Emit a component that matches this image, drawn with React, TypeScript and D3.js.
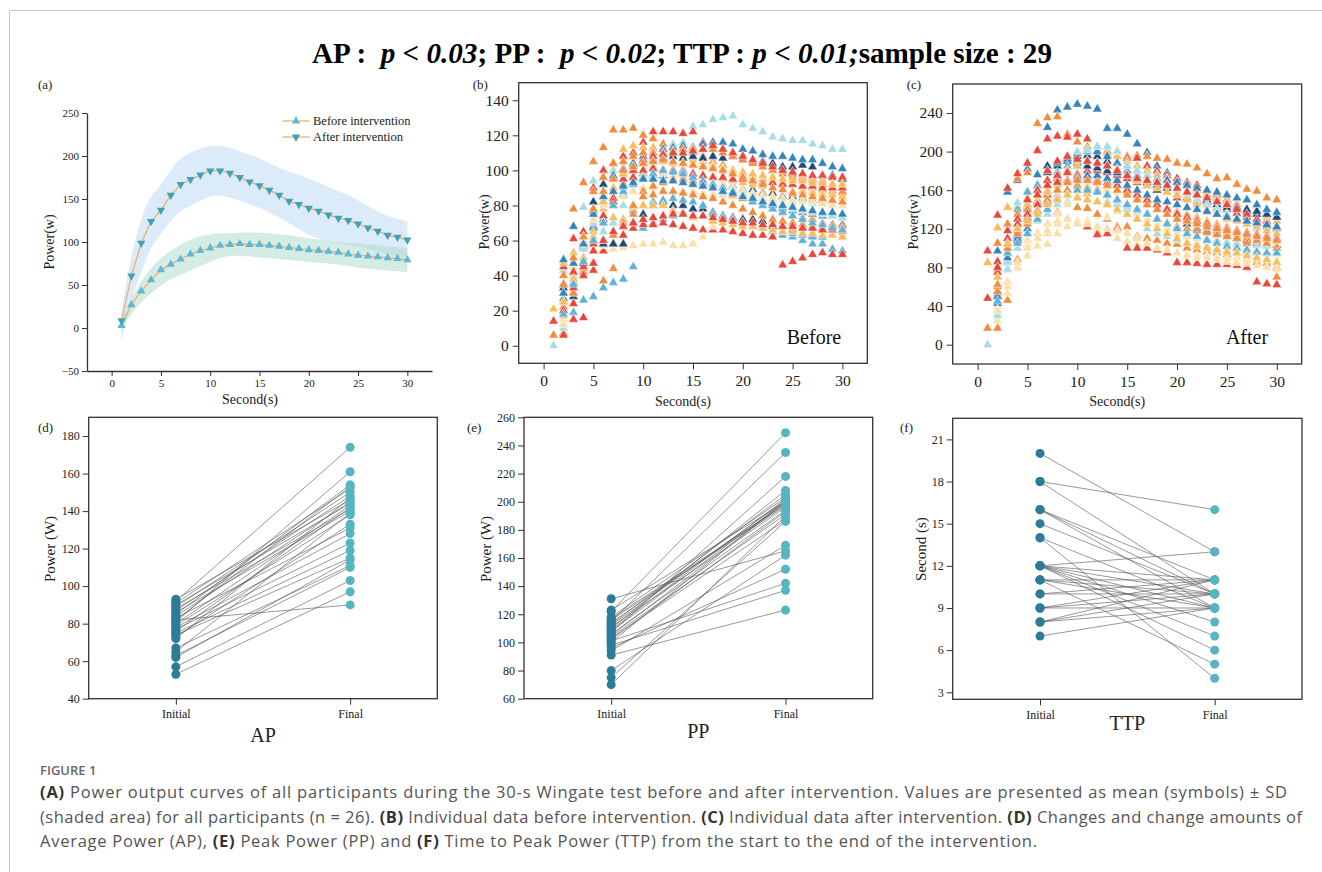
import React, { useEffect, useRef } from "react";
import * as d3 from "d3";

// ---- data ----
const seconds = [1, 2, 3, 4, 5, 6, 7, 8, 9, 10, 11, 12, 13, 14, 15, 16, 17, 18, 19, 20, 21, 22, 23, 24, 25, 26, 27, 28, 29, 30];

const meanBefore = [2.7, 27, 43, 56, 67.5, 74, 80, 86, 90, 93, 96, 97, 98, 97, 97, 96, 95, 93.6, 92.4, 91, 90, 89, 88, 86, 84.6, 83.5, 82.7, 81.5, 80.7, 79.2];
const meanAfter = [8.5, 60.5, 98.6, 124, 137, 154.5, 167, 172.7, 178, 182.8, 182.8, 180, 175, 170, 165.5, 160.3, 154.5, 147.5, 143.6, 139.4, 136, 131.6, 127.7, 125, 121, 116.5, 112.6, 108, 105.6, 102.5];
const beforeUpper = [8, 35, 55, 70, 82, 90, 97, 103, 107, 109, 110, 110, 111, 111, 111, 110, 109, 108, 106, 104, 103, 101, 100, 99, 98, 97, 96, 95, 94, 93];
const beforeLower = [-3, 18, 30, 40, 50, 57, 62, 67, 72, 77, 82, 84, 84, 83, 82, 81, 80, 79, 78, 77, 76, 75, 74, 72, 70, 69, 68, 67, 66, 65];
const afterUpper = [20, 85, 130, 155, 165, 185, 198, 204, 209, 212, 212, 210, 205, 202, 197, 192, 186, 182, 178, 174, 169, 164, 159, 155, 148, 142, 135, 130, 127, 124];
const afterLower = [-15, 35, 65, 95, 110, 125, 137, 142, 148, 154, 154, 152, 148, 144, 140, 135, 128, 122, 115, 108, 104, 101, 99, 97, 95, 92, 89, 85, 83, 82];

const R = "#e8483b", O = "#f28b3c", Y = "#f8bd5a", P = "#fbdfa8", C = "#a7dce2", L = "#5fb1d8", B = "#3584bb", N = "#1d4a78";

const beforeColors = [C, L, R, O, R, Y, P, N, N, N, B, B, L, C, C, Y, Y, P, P, O, O, O, R, R, R, Y, L, B, O];
const beforeSeries = [
  [null, 43, 68, 79, 94, 96, 100, 105, 108, 110, 112, 113, 115, 116, 125, 126, 129, 130, 131, 126, 124, 122, 119, 118, 117, 117, 115, 114, 112, 112],
  [null, 12, 19, 26, 28, 33, 36, 38, 45, 67, 70, 72, 74, 76, 78, 79, 75, 73, 72, 70, 68, 67, 65, 63, 62, 60, 58, 58, 55, 54],
  [14, 7, 15, 16, 43, 54, 58, 63, 67, 69, 69, 70, 69, 68, 67, 66, 66, 66, 65, 64, 63, 63, 62, 46, 48, 50, 52, 53, 52, 52],
  [6, 30, 78, 93, 105, 113, 123, 123, 124, 120, 118, 115, 113, 112, 110, 108, 105, 103, 100, 98, 96, 95, 94, 93, 92, 91, 90, 89, 88, 87],
  [null, 45, 61, 65, 90, 100, 104, 108, 110, 116, 122, 122, 122, 121, 122, 116, 114, 112, 110, 108, 106, 104, 102, 100, 98, 96, 95, 94, 92, 90],
  [21, 47, 53, 60, 75, 85, 90, 112, 114, 113, 113, 112, 110, 108, 106, 105, 103, 101, 99, 97, 96, 95, 94, 93, 92, 90, 88, 87, 86, 84],
  [null, 15, 30, 40, 54, 57, 55, 56, 57, 58, 58, 59, 57, 57, 58, 62, 68, 70, 72, 73, 72, 72, 71, 70, 69, 68, 67, 66, 65, 64],
  [null, 35, 28, 59, 82, 82, 96, 101, 103, 105, 106, 107, 108, 107, 108, 107, 108, 107, 108, 106, 105, 105, 104, 102, 102, 103, 102, 97, 97, 95],
  [null, 33, 36, 57, 68, 92, 95, 98, 100, 98, 97, 97, 100, 100, 98, 93, 92, 91, 91, 89, 89, 87, 87, 85, 85, 84, 83, 83, 82, 82],
  [null, 25, 30, 47, 60, 58, 58, 58, 70, 75, 80, 82, 80, 80, 78, 78, 76, 74, 73, 72, 72, 71, 68, 68, 66, 64, 63, 62, 68, 69],
  [null, 49, 68, 62, 77, 96, 97, 100, 104, 108, 110, 112, 113, 114, 113, 115, 116, 116, 115, 112, 111, 109, 108, 108, 107, 106, 106, 104, 102, 101],
  [null, 27, 45, 56, 67, 72, 80, 86, 92, 95, 97, 98, 100, 98, 96, 95, 93, 90, 88, 86, 84, 82, 80, 78, 77, 76, 75, 74, 74, 73],
  [null, 22, 40, 50, 60, 65, 70, 72, 77, 80, 82, 83, 84, 83, 82, 80, 75, 73, 72, 70, 68, 67, 66, 65, 64, 63, 62, 62, 63, 62],
  [0, 10, 35, 50, 58, 65, 70, 80, 88, 95, 98, 100, 99, 98, 96, 95, 93, 92, 90, 88, 86, 84, 82, 80, 78, 77, 76, 75, 74, 73],
  [null, 20, 40, 55, 70, 78, 85, 90, 92, 95, 96, 95, 95, 94, 93, 92, 91, 90, 88, 87, 86, 85, 84, 83, 82, 82, 81, 81, 80, 80],
  [null, 30, 50, 62, 72, 74, 73, 72, 79, 80, 80, 80, 77, 75, 73, 74, 71, 70, 69, 68, 68, 67, 66, 65, 65, 64, 64, 63, 63, 62],
  [null, 17, 37, 50, 65, 78, 85, 92, 96, 100, 102, 101, 100, 99, 98, 97, 96, 95, 94, 93, 92, 91, 90, 89, 88, 88, 87, 86, 86, 85],
  [null, 12, 30, 42, 58, 70, 80, 85, 88, 90, 90, 89, 89, 88, 88, 87, 86, 86, 85, 85, 84, 84, 83, 83, 83, 82, 82, 82, 82, 82],
  [null, 20, 45, 60, 72, 80, 88, 93, 95, 97, 98, 98, 97, 96, 95, 94, 93, 92, 90, 88, 87, 86, 85, 84, 83, 83, 82, 81, 80, 80],
  [null, 40, 47, 58, 88, 96, 104, 105, 108, 110, 110, 110, 111, 112, 112, 112, 112, 110, 108, 106, 104, 102, 100, 98, 96, 95, 94, 92, 90, 88],
  [null, 25, 36, 44, 60, 60, 63, 70, 80, 88, 91, 93, 95, 95, 94, 93, 90, 88, 86, 84, 82, 80, 78, 76, 74, 73, 72, 70, 69, 68],
  [null, 22, 30, 42, 47, 37, 44, 68, 75, 85, 86, 88, 88, 87, 86, 85, 84, 82, 80, 78, 76, 74, 72, 71, 70, 69, 68, 67, 66, 65],
  [null, 30, 42, 50, 58, 74, 84, 92, 96, 100, 101, 100, 100, 99, 98, 97, 96, 96, 95, 95, 94, 93, 93, 92, 92, 91, 91, 90, 90, 90],
  [null, 20, 33, 45, 54, 70, 82, 95, 100, 106, 108, 109, 110, 110, 111, 112, 114, 112, 110, 108, 106, 104, 102, 100, 99, 98, 97, 97, 96, 96],
  [null, 6, 24, 40, 47, 60, 65, 68, 70, 72, 73, 74, 75, 75, 74, 74, 73, 72, 71, 70, 70, 69, 69, 68, 68, 67, 67, 66, 66, 66],
  [null, 25, 38, 50, 62, 82, 90, 98, 102, 104, 105, 105, 104, 104, 103, 103, 102, 101, 100, 99, 98, 97, 96, 95, 94, 94, 93, 93, 92, 92],
  [null, 18, 35, 48, 60, 70, 80, 88, 92, 96, 98, 100, 99, 98, 96, 94, 92, 90, 88, 85, 82, 80, 78, 76, 74, 72, 70, 69, 67, 66],
  [null, 30, 47, 58, 75, 85, 88, 91, 93, 95, 95, 94, 94, 93, 92, 91, 90, 88, 87, 85, 84, 82, 81, 80, 79, 78, 77, 76, 76, 75],
  [null, 35, 50, 62, 78, 88, 95, 100, 102, 104, 105, 106, 105, 104, 103, 102, 101, 100, 98, 96, 94, 92, 90, 89, 87, 86, 85, 84, 83, 82],
];

const afterColors = [B, O, R, Y, R, O, C, P, P, N, N, N, B, L, C, C, Y, Y, P, O, O, R, R, R, B, L, O, Y, P];
const afterSeries = [
  [null, 97, 158, 170, 182, 176, 225, 243, 246, 249, 247, 244, 224, 224, 218, 208, 199, 185, 178, 170, 165, 160, 155, 152, 150, 145, 140, 138, 135, 133],
  [null, 105, 142, 172, 178, 229, 235, 236, 218, 210, 205, 200, 198, 196, 195, 196, 195, 193, 192, 188, 187, 183, 177, 172, 173, 166, 161, 159, 152, 150],
  [97, 134, 162, 177, 188, 201, 213, 216, 215, 218, 213, 205, 200, 200, 193, 193, 185, 180, 175, 172, 168, 165, 160, 155, 150, 146, 140, 135, 128, 122],
  [85, 121, 142, 143, 152, 160, 170, 180, 190, 198, 200, 200, 198, 195, 190, 185, 180, 176, 172, 168, 165, 160, 156, 152, 148, 145, 140, 136, 132, 128],
  [48, 79, 118, 118, 125, 145, 155, 160, 170, 175, 180, 180, 178, 175, 172, 168, 165, 160, 158, 152, 150, 148, 146, 142, 140, 136, 132, 128, 125, 120],
  [17, 17, 46, 88, 108, 115, 125, 137, 130, 142, 141, 135, 130, 122, 122, 112, 110, 108, 105, 104, 100, 98, 96, 95, 93, 90, 88, 86, 84, 80],
  [0, 32, 78, 100, 115, 128, 135, 145, 148, 152, 150, 148, 146, 145, 143, 140, 120, 115, 112, 108, 105, 104, 102, 100, 98, 96, 95, 95, 94, 93],
  [null, 25, 53, 79, 92, 102, 104, 115, 122, 125, 128, 122, 120, 110, 107, 104, 100, 98, 96, 94, 93, 92, 92, 91, 90, 90, 89, 88, 88, 87],
  [null, 40, 65, 100, 108, 110, 115, 125, 130, 128, 125, 118, 132, 138, 140, 135, 130, 125, 120, 115, 112, 110, 108, 106, 104, 102, 100, 98, 96, 94],
  [null, 43, 86, 108, 158, 148, 185, 188, 193, 195, 196, 195, 190, 188, 180, 172, 165, 160, 158, 155, 152, 150, 148, 145, 142, 140, 138, 135, 110, 103],
  [null, 55, 100, 120, 145, 165, 178, 185, 190, 188, 190, 188, 185, 178, 175, 170, 168, 165, 162, 160, 158, 155, 150, 148, 145, 142, 140, 138, 135, 132],
  [null, 50, 95, 112, 135, 150, 160, 172, 180, 185, 185, 183, 180, 170, 160, 155, 150, 145, 140, 130, 125, 120, 118, 115, 112, 110, 108, 105, 103, 100],
  [null, 35, 95, 113, 142, 165, 180, 188, 192, 198, 200, 200, 195, 188, 185, 180, 175, 172, 170, 168, 165, 162, 160, 158, 155, 152, 150, 145, 140, 137],
  [null, 53, 104, 140, 158, 165, 170, 178, 185, 190, 200, 205, 205, 200, 180, 175, 170, 168, 165, 160, 155, 150, 145, 140, 135, 130, 128, 125, 122, 120],
  [null, 36, 85, 147, 132, 138, 150, 155, 160, 152, 150, 148, 148, 145, 140, 138, 135, 130, 125, 120, 115, 112, 110, 108, 106, 105, 104, 103, 102, 100],
  [null, 30, 78, 100, 125, 140, 160, 168, 180, 200, 202, 205, 205, 200, 185, 180, 175, 170, 165, 160, 155, 150, 145, 140, 135, 130, 125, 120, 110, 95],
  [null, 62, 104, 125, 140, 150, 160, 170, 180, 185, 190, 188, 185, 182, 175, 170, 165, 162, 158, 155, 150, 145, 140, 135, 130, 128, 125, 122, 118, 115],
  [null, 75, 100, 124, 145, 150, 158, 165, 160, 163, 156, 162, 160, 158, 155, 152, 148, 145, 142, 138, 135, 132, 128, 125, 122, 118, 115, 112, 110, 108],
  [null, 45, 65, 80, 103, 115, 125, 135, 145, 155, 165, 162, 160, 158, 155, 150, 145, 140, 135, 130, 128, 125, 122, 120, 118, 115, 112, 110, 108, 105],
  [null, 60, 100, 120, 132, 155, 170, 175, 180, 177, 175, 170, 165, 160, 158, 155, 150, 145, 140, 135, 130, 125, 122, 118, 115, 112, 110, 108, 105, 100],
  [null, 62, 125, 135, 140, 145, 146, 152, 160, 165, 162, 160, 155, 150, 145, 140, 135, 130, 126, 122, 120, 118, 116, 114, 112, 110, 105, 85, 80, 70],
  [null, 86, 110, 130, 150, 160, 180, 190, 195, 192, 190, 188, 185, 180, 175, 172, 170, 168, 165, 162, 158, 155, 152, 148, 145, 140, 135, 130, 125, 122],
  [null, 75, 95, 120, 135, 155, 170, 175, 178, 175, 122, 114, 115, 120, 100, 100, 100, 98, 95, 85, 85, 84, 83, 83, 83, 82, 80, 65, 63, 62],
  [null, 80, 105, 125, 130, 145, 165, 168, 170, 172, 172, 170, 168, 165, 160, 155, 150, 145, 140, 135, 132, 128, 125, 122, 120, 118, 116, 114, 112, 110],
  [null, 50, 90, 110, 120, 138, 148, 160, 168, 172, 175, 175, 172, 170, 165, 160, 155, 150, 148, 145, 142, 140, 138, 135, 132, 130, 128, 126, 124, 122],
  [null, 45, 95, 105, 115, 130, 140, 150, 155, 160, 160, 158, 155, 150, 145, 140, 135, 130, 125, 120, 115, 112, 108, 105, 102, 100, 98, 96, 95, 95],
  [null, 55, 100, 115, 125, 138, 150, 160, 168, 170, 170, 168, 165, 160, 155, 150, 145, 140, 135, 130, 128, 125, 122, 120, 118, 116, 114, 112, 110, 108],
  [null, 70, 104, 120, 128, 135, 145, 150, 155, 152, 150, 148, 145, 140, 135, 130, 125, 120, 115, 110, 105, 102, 100, 98, 96, 95, 92, 90, 88, 85],
  [null, 35, 60, 85, 100, 110, 118, 128, 130, 125, 125, 122, 120, 118, 115, 110, 105, 100, 98, 95, 92, 90, 90, 88, 86, 85, 84, 82, 80, 78],
];

const apInitial = [93, 92, 91, 90, 89, 88, 87, 86, 85, 84, 83, 82, 81, 80, 79, 78, 77, 76, 75, 74, 73, 72, 67, 65, 63, 62, 57, 53, 82];
const apFinal = [146, 174, 152, 144, 150, 141, 148, 140, 154, 145, 131, 90, 161, 143, 138, 128, 123, 142, 119, 115, 133, 147, 111, 139, 110, 114, 103, 97, 153];
const ppInitial = [131, 123, 122, 118, 117, 116, 115, 114, 113, 112, 111, 110, 109, 108, 107, 106, 105, 104, 103, 102, 101, 100, 98, 96, 94, 91, 80, 75, 70];
const ppFinal = [165, 200, 249, 203, 198, 197, 235, 199, 205, 201, 196, 208, 202, 200, 218, 194, 199, 191, 187, 193, 142, 201, 137, 152, 169, 123, 162, 186, 190];
const ttpInitial = [20, 18, 18, 16, 16, 16, 15, 14, 14, 12, 12, 12, 12, 12, 12, 11, 11, 11, 11, 10, 10, 9, 9, 9, 8, 8, 8, 7, 12];
const ttpFinal = [13, 16, 10, 11, 10, 9, 10, 4, 9, 13, 8, 7, 6, 9, 10, 5, 10, 9, 11, 10, 11, 11, 9, 10, 9, 11, 10, 9, 11];

const pairLabels = ["Initial", "Final"];
const secondTicks = [0, 5, 10, 15, 20, 25, 30];
const aTicksY = [-50, 0, 50, 100, 150, 200, 250];
const bTicksY = [0, 20, 40, 60, 80, 100, 120, 140];
const cTicksY = [0, 40, 80, 120, 160, 200, 240];
const dTicksY = [40, 60, 80, 100, 120, 140, 160, 180];
const eTicksY = [60, 80, 100, 120, 140, 160, 180, 200, 220, 240, 260];
const fTicksY = [3, 6, 9, 12, 15, 18, 21];

const serif = "'Liberation Serif', 'Times New Roman', serif";
const sans = "'Open Sans', 'Noto Sans', sans-serif";

export default function App() {
  const svgRef = useRef<SVGSVGElement>(null);

  useEffect(() => {
    const svg = d3.select(svgRef.current);
    svg.selectAll("*").remove();

    // page border
    svg.append("path").attr("d", "M9.5,872V10.5H1322").attr("fill", "none").attr("stroke", "#c9c9c9");

    // title
    const title = svg.append("text")
      .attr("x", 682).attr("y", 63).attr("text-anchor", "middle")
      .attr("font-family", serif).attr("font-weight", "bold").attr("font-size", 29)
      .attr("textLength", 740).attr("lengthAdjust", "spacingAndGlyphs");
    [["AP :  ", false], ["p < 0.03", true], ["; PP :  ", false], ["p < 0.02", true], ["; TTP : ", false], ["p < 0.01;", true], ["sample size : 29", false]]
      .forEach(([t, it]) => title.append("tspan").attr("font-style", it ? "italic" : "normal").style("white-space", "pre").text(t as string));

    const styleAxis = (g, size) => {
      g.selectAll("text").attr("font-family", serif).attr("font-size", size).attr("fill", "#222");
      g.selectAll(".tick line").attr("stroke", "#333").attr("stroke-width", 1);
    };
    const panelLabel = (x, y, t) =>
      svg.append("text").attr("x", x).attr("y", y).attr("font-family", serif).attr("font-size", 13).attr("fill", "#222").text(t);
    const axisTitle = (x, y, t, size, rotate = false) => {
      const el = svg.append("text").attr("font-family", serif).attr("font-size", size).attr("fill", "#222").attr("text-anchor", "middle").text(t);
      if (rotate) el.attr("transform", `translate(${x},${y}) rotate(-90)`);
      else el.attr("x", x).attr("y", y);
    };
    const frame = (x0, x1, y0, y1) =>
      svg.append("rect").attr("x", x0).attr("y", y0).attr("width", x1 - x0).attr("height", y1 - y0)
        .attr("fill", "none").attr("stroke", "#333").attr("stroke-width", 1.3);

    // ---------- (a) ----------
    const xa = d3.scaleLinear().domain([-2.5, 32.5]).range([87, 432]);
    const ya = d3.scaleLinear().domain([-50, 250]).range([371, 113]);
    const ga = svg.append("g");
    const band = (up, lo) => d3.area().x((d, i) => xa(seconds[i])).y0((d, i) => ya(lo[i])).y1((d, i) => ya(up[i])).curve(d3.curveBasis)(seconds as any);
    ga.append("path").attr("d", band(afterUpper, afterLower)).attr("fill", "#b9d8f3").attr("opacity", 0.5);
    ga.append("path").attr("d", band(beforeUpper, beforeLower)).attr("fill", "#abd9cc").attr("opacity", 0.5);
    const meanLine = d3.line().x((d, i) => xa(seconds[i])).y((d) => ya(d));
    ga.append("path").attr("d", meanLine(meanAfter as any)).attr("fill", "none").attr("stroke", "#f5a862").attr("stroke-width", 1.2);
    ga.append("path").attr("d", meanLine(meanBefore as any)).attr("fill", "none").attr("stroke", "#f5a862").attr("stroke-width", 1.2);
    const tri = d3.symbol().type(d3.symbolTriangle).size(30);
    ga.selectAll(".mb").data(meanBefore).join("path")
      .attr("transform", (d, i) => `translate(${xa(seconds[i])},${ya(d)})`).attr("d", tri).attr("fill", "#5cb8d6");
    ga.selectAll(".ma").data(meanAfter).join("path")
      .attr("transform", (d, i) => `translate(${xa(seconds[i])},${ya(d)}) rotate(180)`).attr("d", tri).attr("fill", "#42a3b4");
    // legend
    [["Before intervention", "#5cb8d6", 0], ["After intervention", "#42a3b4", 180]].forEach(([t, c, r], i) => {
      const ly = 121 + i * 16;
      ga.append("line").attr("x1", 282).attr("x2", 310).attr("y1", ly).attr("y2", ly).attr("stroke", "#f5a862").attr("stroke-width", 1.2);
      ga.append("path").attr("transform", `translate(296,${ly}) rotate(${r})`).attr("d", tri).attr("fill", c as string);
      ga.append("text").attr("x", 313).attr("y", ly + 4).attr("font-family", serif).attr("font-size", 12.5).attr("fill", "#222").text(t as string);
    });
    const axA = svg.append("g").attr("transform", "translate(0,371)")
      .call(d3.axisBottom(xa).tickValues(secondTicks).tickSize(5).tickPadding(3).tickSizeOuter(0));
    const ayA = svg.append("g").attr("transform", "translate(87,0)")
      .call(d3.axisLeft(ya).tickValues(aTicksY).tickSize(5).tickPadding(3).tickSizeOuter(0));
    [axA, ayA].forEach((g) => { styleAxis(g, 11); g.select(".domain").attr("stroke", "#333").attr("stroke-width", 1.3); });
    panelLabel(38, 89, "(a)");
    axisTitle(54, 242, "Power(w)", 14, true);
    axisTitle(250, 404, "Second(s)", 14);

    // ---------- (b) & (c) ----------
    const scatterPanel = (series, colors, x0, x1, y0, y1, ydom, yticks, lab, word, wordX, ylabX) => {
      const x = d3.scaleLinear().domain([-2.5, 32.5]).range([x0, x1]);
      const y = d3.scaleLinear().domain(ydom).range([y1, y0]);
      const g = svg.append("g");
      const sym = d3.symbol().type(d3.symbolTriangle).size(40);
      series.forEach((s, k) => {
        const pts = s.map((v, i) => [seconds[i], v]).filter((p) => p[1] !== null);
        g.selectAll(null).data(pts).join("path")
          .attr("transform", (p) => `translate(${x(p[0])},${y(p[1])})`)
          .attr("d", sym).attr("fill", colors[k]).attr("stroke", "#fff").attr("stroke-width", 0.5);
      });
      frame(x0, x1, y0, y1);
      const ax = svg.append("g").attr("transform", `translate(0,${y1})`)
        .call(d3.axisBottom(x).tickValues(secondTicks).tickSize(6).tickPadding(6));
      const ay = svg.append("g").attr("transform", `translate(${x0},0)`)
        .call(d3.axisLeft(y).tickValues(yticks).tickSize(6).tickPadding(4));
      [ax, ay].forEach((a) => { a.select(".domain").remove(); styleAxis(a, 15.5); });
      panelLabel(x0 - 46, 89, lab);
      axisTitle(ylabX, 222, "Power(w)", 14, true);
      axisTitle((x0 + x1) / 2 - 10, 406, "Second(s)", 14);
      svg.append("text").attr("x", wordX).attr("y", 344).attr("font-family", serif).attr("font-size", 20).attr("fill", "#111").attr("text-anchor", "middle").text(word);
    };
    scatterPanel(beforeSeries, beforeColors, 518.7, 867.3, 82.7, 363.3, [-10, 150], bTicksY, "(b)", "Before", 814, 489);
    scatterPanel(afterSeries, afterColors, 952.7, 1301.7, 84, 364, [-20, 270], cTicksY, "(c)", "After", 1247, 918);

    // ---------- (d) (e) (f) ----------
    const pairPanel = (ini, fin, x0, x1, y0, y1, ydom, yticks, lab, labX, ylab, ylabX, name, nameY) => {
      const x = d3.scaleLinear().domain([-0.5, 1.5]).range([x0, x1]);
      const y = d3.scaleLinear().domain(ydom).range([y1, y0]);
      const g = svg.append("g");
      g.selectAll("line.pair").data(ini).join("line")
        .attr("x1", x(0)).attr("x2", x(1)).attr("y1", (d) => y(d)).attr("y2", (d, i) => y(fin[i]))
        .attr("stroke", "#555").attr("stroke-width", 0.7).attr("opacity", 0.85);
      g.selectAll("circle.ini").data(ini).join("circle").attr("cx", x(0)).attr("cy", (d) => y(d)).attr("r", 4.5).attr("fill", "#2b7c99");
      g.selectAll("circle.fin").data(fin).join("circle").attr("cx", x(1)).attr("cy", (d) => y(d)).attr("r", 4.5).attr("fill", "#56b5c1");
      frame(x0, x1, y0, y1);
      const ax = svg.append("g").attr("transform", `translate(0,${y1})`)
        .call(d3.axisBottom(x).tickValues([0, 1]).tickFormat((d) => pairLabels[d]).tickSize(6).tickPadding(5));
      const ay = svg.append("g").attr("transform", `translate(${x0},0)`)
        .call(d3.axisLeft(y).tickValues(yticks).tickSize(6).tickPadding(3));
      [ax, ay].forEach((a) => { a.select(".domain").remove(); styleAxis(a, 12); });
      panelLabel(labX, 432, lab);
      axisTitle(ylabX, 549, ylab, 15, true);
      axisTitle((x0 + x1) / 2, nameY, name, 20);
    };
    pairPanel(apInitial, apFinal, 88.7, 437.3, 417.3, 698.7, [40, 190], dTicksY, "(d)", 38, "Power (W)", 55, "AP", 742);
    pairPanel(ppInitial, ppFinal, 524, 872.7, 417.3, 698.7, [60, 260], eTicksY, "(e)", 467, "Power (W)", 491, "PP", 738);
    pairPanel(ttpInitial, ttpFinal, 952.7, 1302, 418.3, 699.3, [2.5, 22.5], fTicksY, "(f)", 900, "Second (s)", 926, "TTP", 730);

    // ---------- caption ----------
    svg.append("text").attr("x", 40).attr("y", 775).attr("font-family", sans).attr("font-size", 13)
      .attr("font-weight", 600).attr("fill", "#666").text("FIGURE 1");
    const lines = [
      [["(A)", 1], [" Power output curves of all participants during the 30-s Wingate test before and after intervention. Values are presented as mean (symbols) ± SD", 0]],
      [["(shaded area) for all participants (n = 26). ", 0], ["(B)", 1], [" Individual data before intervention. ", 0], ["(C)", 1], [" Individual data after intervention. ", 0], ["(D)", 1], [" Changes and change amounts of", 0]],
      [["Average Power (AP), ", 0], ["(E)", 1], [" Peak Power (PP) and ", 0], ["(F)", 1], [" Time to Peak Power (TTP) from the start to the end of the intervention.", 0]],
    ];
    const widths = [1247, 1262, 997];
    lines.forEach((parts, i) => {
      const t = svg.append("text").attr("x", 40).attr("y", 798 + i * 24.5).attr("font-family", sans)
        .attr("font-size", 16.5).attr("fill", "#555").attr("textLength", widths[i]).attr("lengthAdjust", "spacing").style("white-space", "pre");
      parts.forEach(([s, b]) => t.append("tspan").attr("font-weight", b ? 700 : 400).attr("fill", b ? "#333" : "#555").text(s as string));
    });
  }, []);

  return (
    <svg ref={svgRef} width={1322} height={872} style={{ position: "absolute", left: 0, top: 0, background: "#fff" }} />
  );
}
